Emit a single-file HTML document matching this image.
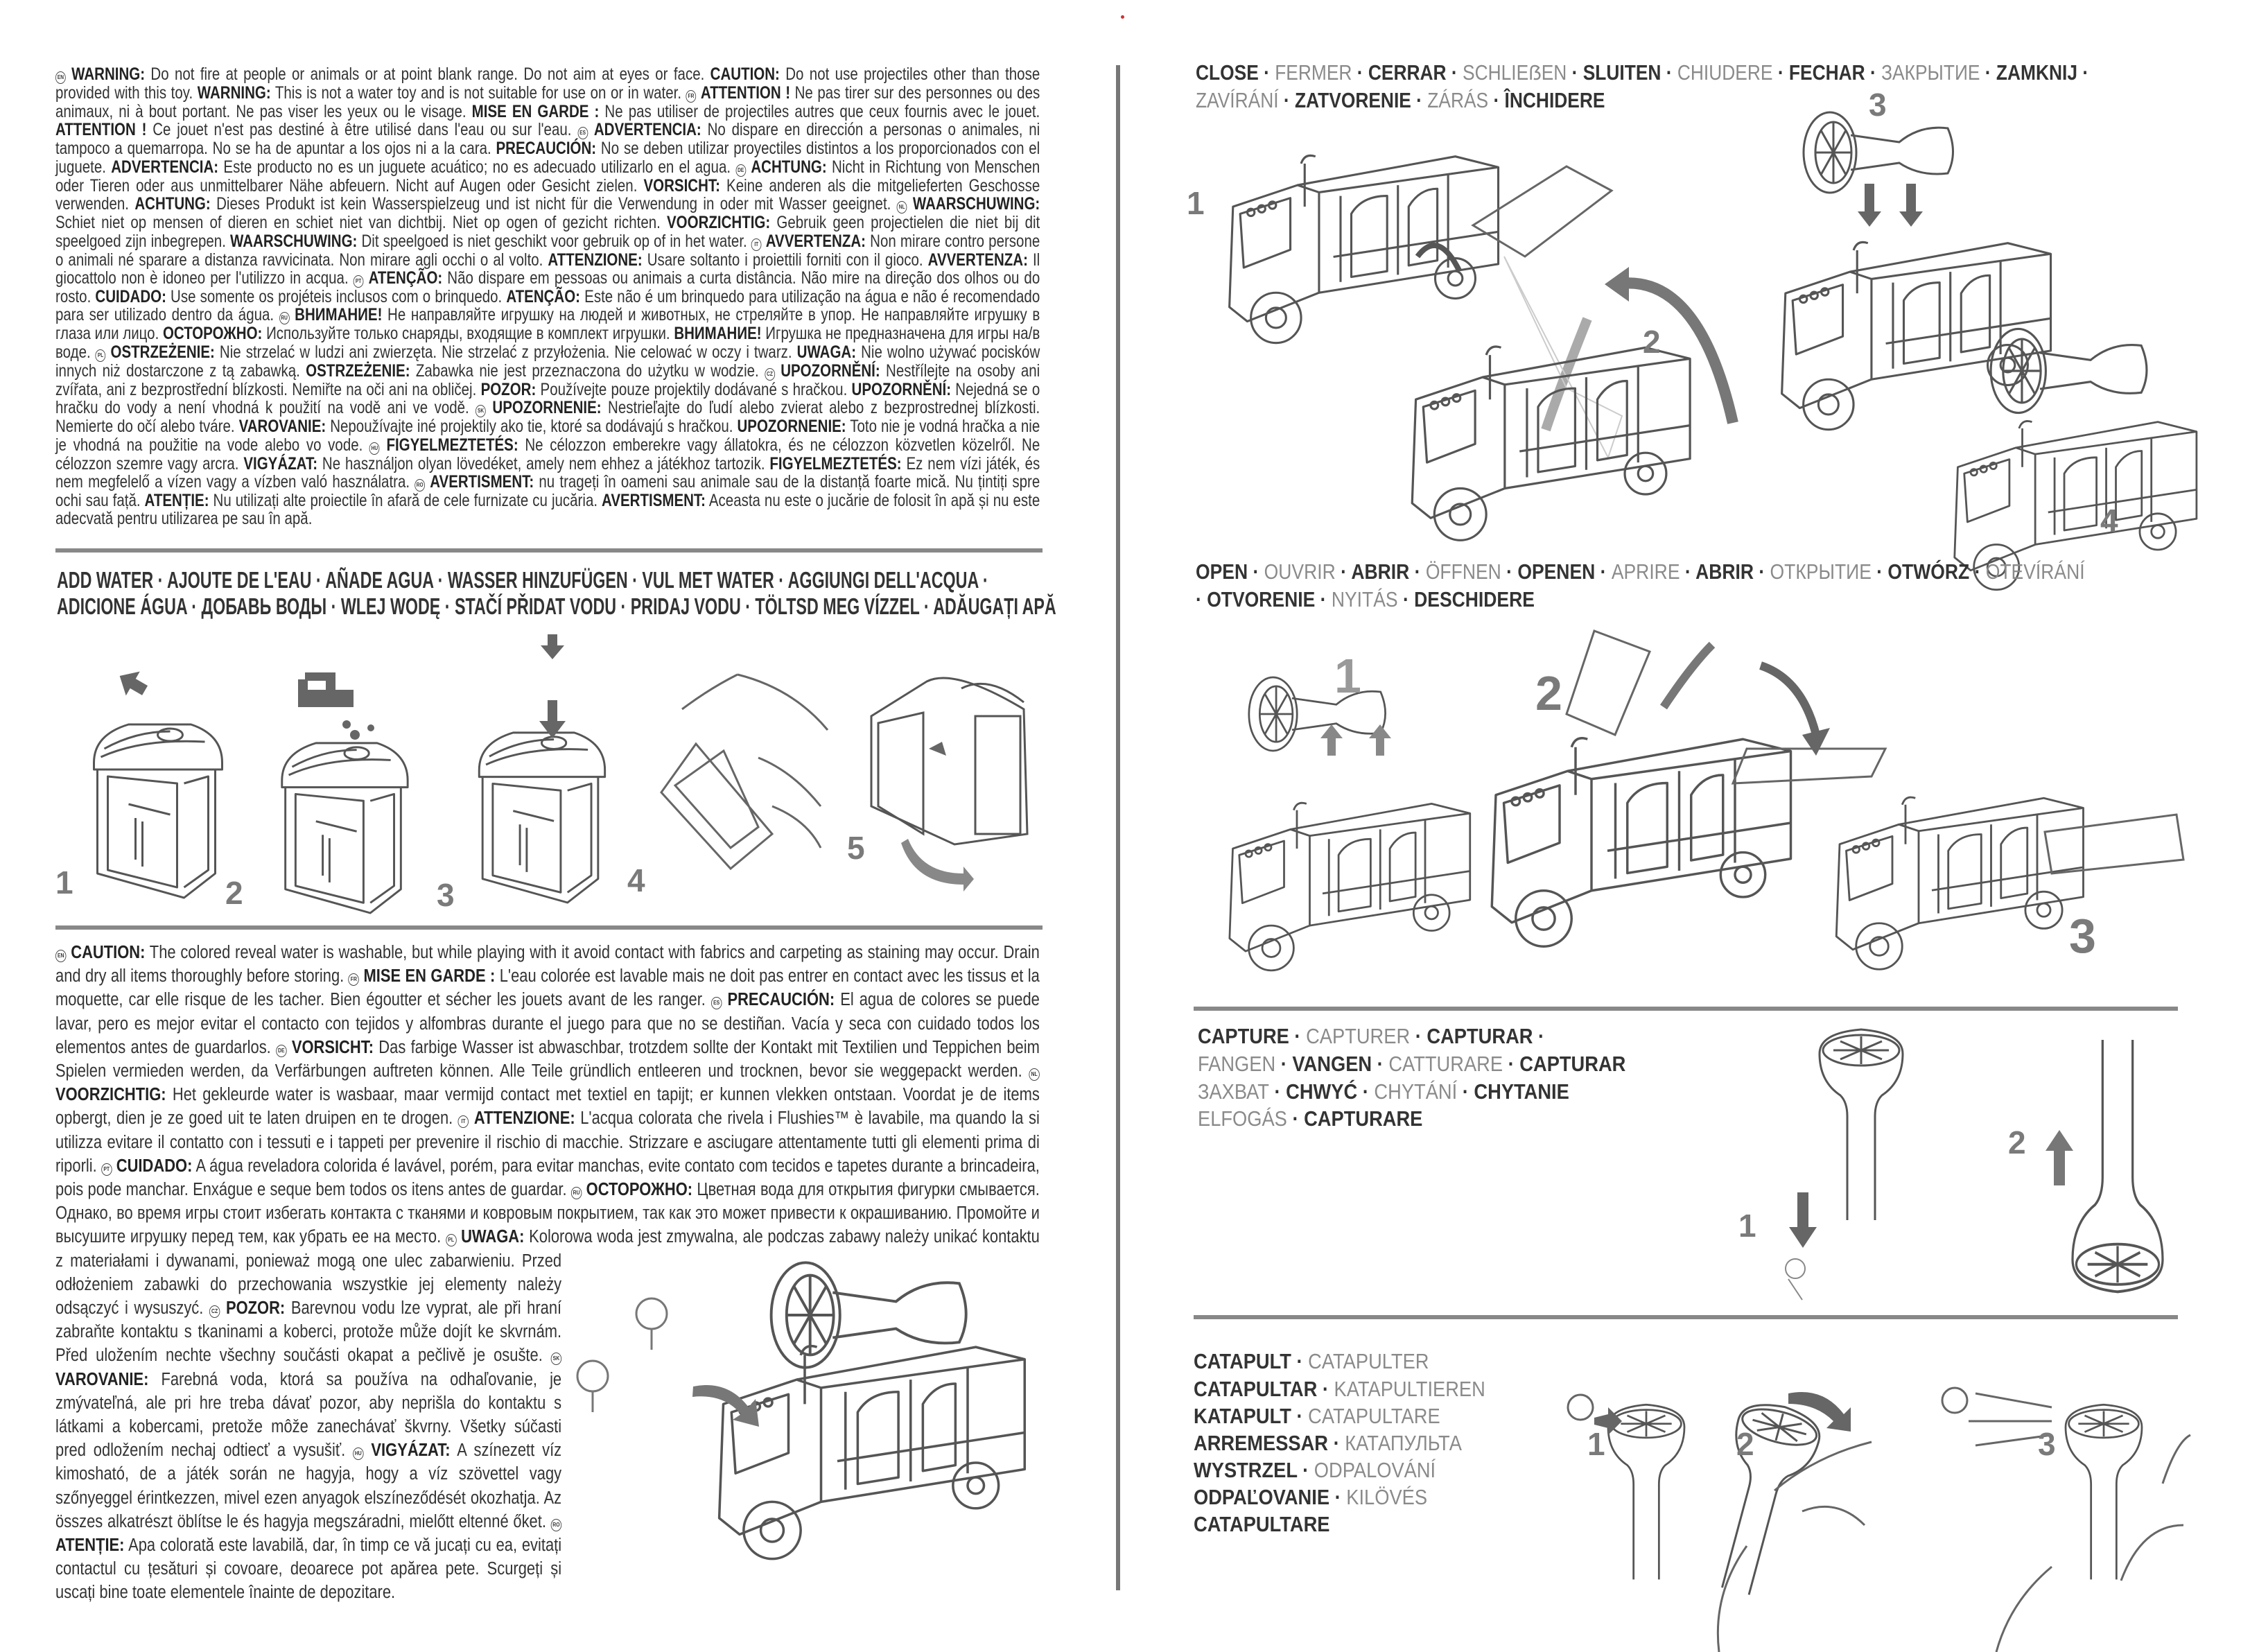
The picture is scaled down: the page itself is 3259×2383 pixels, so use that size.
<!DOCTYPE html>
<html><head><meta charset="utf-8">
<style>
html,body{margin:0;padding:0;background:#fff;}
body{width:3259px;height:2383px;position:relative;overflow:hidden;font-family:"Liberation Sans","DejaVu Sans",sans-serif;color:#2a2a2a;}
.abs{position:absolute;}
.warn{position:absolute;left:80px;top:94px;width:1732px;transform:scaleX(0.82);transform-origin:0 0;font-size:25px;line-height:26.4px;text-align:justify;color:#333;}
.caut{position:absolute;left:80px;top:1357px;width:1651px;transform:scaleX(0.86);transform-origin:0 0;font-size:25.5px;line-height:34.2px;text-align:justify;color:#333;}
b{font-weight:bold;color:#222;}
.lg{display:inline-block;width:16px;height:16px;border:1.5px solid #444;border-radius:50%;font-size:8px;line-height:16px;text-align:center;font-weight:bold;vertical-align:1px;}
.hr{position:absolute;height:6px;background:#888;}
.h{position:absolute;font-weight:bold;font-size:31px;line-height:38px;color:#333;transform-origin:0 0;white-space:nowrap;}
.g{color:#8a8a8a;font-weight:normal;}
.n{position:absolute;font-weight:bold;font-size:46px;color:#7a7a7a;line-height:1;}
svg{position:absolute;overflow:visible;}
</style></head><body>

<div class="warn"><span class="lg">EN</span> <b>WARNING:</b> Do not fire at people or animals or at point blank range. Do not aim at eyes or face. <b>CAUTION:</b> Do not use projectiles other than those provided with this toy. <b>WARNING:</b> This is not a water toy and is not suitable for use on or in water. <span class="lg">FR</span> <b>ATTENTION !</b> Ne pas tirer sur des personnes ou des animaux, ni à bout portant. Ne pas viser les yeux ou le visage. <b>MISE EN GARDE :</b> Ne pas utiliser de projectiles autres que ceux fournis avec le jouet. <b>ATTENTION !</b> Ce jouet n'est pas destiné à être utilisé dans l'eau ou sur l'eau. <span class="lg">ES</span> <b>ADVERTENCIA:</b> No dispare en dirección a personas o animales, ni tampoco a quemarropa. No se ha de apuntar a los ojos ni a la cara. <b>PRECAUCIÓN:</b> No se deben utilizar proyectiles distintos a los proporcionados con el juguete. <b>ADVERTENCIA:</b> Este producto no es un juguete acuático; no es adecuado utilizarlo en el agua. <span class="lg">DE</span> <b>ACHTUNG:</b> Nicht in Richtung von Menschen oder Tieren oder aus unmittelbarer Nähe abfeuern. Nicht auf Augen oder Gesicht zielen. <b>VORSICHT:</b> Keine anderen als die mitgelieferten Geschosse verwenden. <b>ACHTUNG:</b> Dieses Produkt ist kein Wasserspielzeug und ist nicht für die Verwendung in oder mit Wasser geeignet. <span class="lg">NL</span> <b>WAARSCHUWING:</b> Schiet niet op mensen of dieren en schiet niet van dichtbij. Niet op ogen of gezicht richten. <b>VOORZICHTIG:</b> Gebruik geen projectielen die niet bij dit speelgoed zijn inbegrepen. <b>WAARSCHUWING:</b> Dit speelgoed is niet geschikt voor gebruik op of in het water. <span class="lg">IT</span> <b>AVVERTENZA:</b> Non mirare contro persone o animali né sparare a distanza ravvicinata. Non mirare agli occhi o al volto. <b>ATTENZIONE:</b> Usare soltanto i proiettili forniti con il gioco. <b>AVVERTENZA:</b> Il giocattolo non è idoneo per l'utilizzo in acqua. <span class="lg">PT</span> <b>ATENÇÃO:</b> Não dispare em pessoas ou animais a curta distância. Não mire na direção dos olhos ou do rosto. <b>CUIDADO:</b> Use somente os projéteis inclusos com o brinquedo. <b>ATENÇÃO:</b> Este não é um brinquedo para utilização na água e não é recomendado para ser utilizado dentro da água. <span class="lg">RU</span> <b>ВНИМАНИЕ!</b> Не направляйте игрушку на людей и животных, не стреляйте в упор. Не направляйте игрушку в глаза или лицо. <b>ОСТОРОЖНО:</b> Используйте только снаряды, входящие в комплект игрушки. <b>ВНИМАНИЕ!</b> Игрушка не предназначена для игры на/в воде. <span class="lg">PL</span> <b>OSTRZEŻENIE:</b> Nie strzelać w ludzi ani zwierzęta. Nie strzelać z przyłożenia. Nie celować w oczy i twarz. <b>UWAGA:</b> Nie wolno używać pocisków innych niż dostarczone z tą zabawką. <b>OSTRZEŻENIE:</b> Zabawka nie jest przeznaczona do użytku w wodzie. <span class="lg">CZ</span> <b>UPOZORNĚNÍ:</b> Nestřílejte na osoby ani zvířata, ani z bezprostřední blízkosti. Nemiřte na oči ani na obličej. <b>POZOR:</b> Používejte pouze projektily dodávané s hračkou. <b>UPOZORNĚNÍ:</b> Nejedná se o hračku do vody a není vhodná k použití na vodě ani ve vodě. <span class="lg">SK</span> <b>UPOZORNENIE:</b> Nestrieľajte do ľudí alebo zvierat alebo z bezprostrednej blízkosti. Nemierte do očí alebo tváre. <b>VAROVANIE:</b> Nepoužívajte iné projektily ako tie, ktoré sa dodávajú s hračkou. <b>UPOZORNENIE:</b> Toto nie je vodná hračka a nie je vhodná na použitie na vode alebo vo vode. <span class="lg">HU</span> <b>FIGYELMEZTETÉS:</b> Ne célozzon emberekre vagy állatokra, és ne célozzon közvetlen közelről. Ne célozzon szemre vagy arcra. <b>VIGYÁZAT:</b> Ne használjon olyan lövedéket, amely nem ehhez a játékhoz tartozik. <b>FIGYELMEZTETÉS:</b> Ez nem vízi játék, és nem megfelelő a vízen vagy a vízben való használatra. <span class="lg">RO</span> <b>AVERTISMENT:</b> nu trageți în oameni sau animale sau de la distanță foarte mică. Nu țintiți spre ochi sau față. <b>ATENȚIE:</b> Nu utilizați alte proiectile în afară de cele furnizate cu jucăria. <b>AVERTISMENT:</b> Aceasta nu este o jucărie de folosit în apă și nu este adecvată pentru utilizarea pe sau în apă.</div>

<div class="hr" style="left:80px;top:791px;width:1424px;"></div>
<div class="h" style="left:82px;top:818px;font-size:33px;transform:scaleX(0.705);">ADD WATER · AJOUTE DE L'EAU · AÑADE AGUA · WASSER HINZUFÜGEN · VUL MET WATER · AGGIUNGI DELL'ACQUA ·</div>
<div class="h" style="left:82px;top:856px;font-size:33px;transform:scaleX(0.705);">ADICIONE ÁGUA · ДОБАВЬ ВОДЫ · WLEJ WODĘ · STAČÍ PŘIDAT VODU · PRIDAJ VODU · TÖLTSD MEG VÍZZEL · ADĂUGAȚI APĂ</div>

<svg width="0" height="0" style="position:absolute">
<defs>
<g id="toilet" fill="none" stroke="#555" stroke-width="3" stroke-linejoin="round">
<path d="M10 60 Q10 20 60 5 L150 5 Q195 20 195 60 L195 70 L10 70 Z"/>
<path d="M25 40 Q70 15 120 15 M20 52 Q80 25 170 30"/>
<ellipse cx="120" cy="20" rx="18" ry="9"/>
<path d="M15 70 L15 220 L140 255 L185 220 L185 70"/>
<path d="M30 80 L30 215 L130 240 L130 90 Z"/>
<path d="M140 90 L175 80 L175 215 L140 240"/>
<path d="M60 120 L120 135 M70 140 L70 200 M80 145 L80 210"/>
</g>
<g id="truck" fill="none" stroke="#555" stroke-width="3" stroke-linejoin="round">
<path d="M20 90 L110 60 L140 70 L140 210 L40 250 L15 230 Z"/>
<path d="M30 100 L100 78 L100 150 L35 175 Z"/>
<path d="M110 60 L330 20 L390 35 L390 170 L140 210"/>
<path d="M140 70 L390 35"/>
<path d="M170 75 L170 195 M250 60 L250 185 M320 45 L320 175"/>
<path d="M185 100 Q200 75 235 75 L235 180 L185 188 Z M265 90 Q280 65 305 65 L305 165 L265 172 Z"/>
<path d="M160 160 L390 125"/>
<circle cx="80" cy="245" r="35"/><circle cx="80" cy="245" r="14"/>
<circle cx="330" cy="190" r="28"/><circle cx="330" cy="190" r="10"/>
<path d="M120 30 L120 90 M115 30 Q120 15 135 20"/>
<circle cx="45" cy="98" r="5"/><circle cx="60" cy="93" r="5"/><circle cx="75" cy="88" r="5"/>
</g>
<g id="fan" fill="none" stroke="#555" stroke-width="3">
<ellipse cx="40" cy="60" rx="38" ry="58"/>
<ellipse cx="45" cy="60" rx="26" ry="44"/>
<path d="M45 16 L45 104 M19 60 L71 60 M27 28 L63 92 M27 92 L63 28"/>
<path d="M70 35 L140 45 Q170 20 210 25 Q225 60 210 90 Q170 95 140 75 L70 85"/>
</g>
<g id="plunger" fill="none" stroke="#555" stroke-width="3">
<path d="M40 0 L40 150 Q40 170 30 180 Q0 200 0 240 Q0 270 60 275 Q120 270 120 240 Q120 200 90 180 Q80 170 80 150 L80 0"/>
<ellipse cx="60" cy="245" rx="55" ry="22"/>
<path d="M60 225 L60 265 M20 245 L100 245 M30 232 L90 258 M30 258 L90 232"/>
</g>
</defs>
</svg>

<svg style="left:123px;top:1040px" width="205" height="255" viewBox="0 0 200 255"><use href="#toilet"/></svg>
<svg style="left:395px;top:1067px" width="200" height="250" viewBox="0 0 200 255"><use href="#toilet"/></svg>
<svg style="left:677px;top:1052px" width="205" height="250" viewBox="0 0 200 255"><use href="#toilet"/></svg>
<svg style="left:1256px;top:963px" width="262" height="255" viewBox="0 0 260 255"><g fill="none" stroke="#555" stroke-width="3"><path d="M80 20 Q120 0 220 60 L225 240 L120 255 L0 200 L0 70 Z"/><path d="M10 80 L75 65 L75 240 L10 200 Z"/><rect x="150" y="70" width="65" height="170"/><path d="M130 30 Q170 10 220 50"/></g></svg>
<svg style="left:944px;top:963px" width="266" height="317" viewBox="0 0 266 317"><g fill="none" stroke="#666" stroke-width="3"><path d="M120 10 Q200 30 250 90 M40 60 Q80 30 120 10 M60 110 L10 180 L110 290 L170 240 Z M30 170 L100 120 L150 230 L110 260 Z M150 130 Q200 150 240 200 M170 200 Q220 220 240 260"/></g></svg>

<svg style="left:0;top:0" width="3259" height="2383"><g fill="#666">
<path d="M210 985 l-22 -20 l0 12 l-20 0 l0 16 l20 0 l0 12 z" transform="rotate(-150 190 985)"/>
<rect x="440" y="970" width="40" height="12"/><rect x="470" y="970" width="14" height="35"/><rect x="430" y="980" width="14" height="40"/><rect x="430" y="995" width="80" height="25"/>
<circle cx="500" cy="1045" r="6"/><circle cx="512" cy="1060" r="7"/><circle cx="535" cy="1050" r="5"/>
<path d="M790 915 l14 0 l0 16 l10 0 l-17 20 l-17 -20 l10 0 z"/>
<path d="M790 1010 l14 0 l0 30 l12 0 l-19 25 l-19 -25 l12 0 z"/>
<path d="M1340 1080 l25 10 l-6 -20 z"/>
<path d="M1310 1210 q20 50 80 50 l0 -10 l15 18 l-15 18 l0 -10 q-70 0 -90 -60 z" fill="#888"/>
</g></svg>
<div class="n" style="left:80px;top:1250px;">1</div>
<div class="n" style="left:325px;top:1265px;">2</div>
<div class="n" style="left:630px;top:1268px;">3</div>
<div class="n" style="left:905px;top:1247px;">4</div>
<div class="n" style="left:1222px;top:1200px;">5</div>

<div class="hr" style="left:80px;top:1335px;width:1424px;"></div>

<div class="caut"><div style="float:right;width:0;height:452px;"></div><div style="float:right;clear:right;width:802px;height:520px;"></div><span class="lg">EN</span> <b>CAUTION:</b> The colored reveal water is washable, but while playing with it avoid contact with fabrics and carpeting as staining may occur. Drain and dry all items thoroughly before storing. <span class="lg">FR</span> <b>MISE EN GARDE :</b> L'eau colorée est lavable mais ne doit pas entrer en contact avec les tissus et la moquette, car elle risque de les tacher. Bien égoutter et sécher les jouets avant de les ranger. <span class="lg">ES</span> <b>PRECAUCIÓN:</b> El agua de colores se puede lavar, pero es mejor evitar el contacto con tejidos y alfombras durante el juego para que no se destiñan. Vacía y seca con cuidado todos los elementos antes de guardarlos. <span class="lg">DE</span> <b>VORSICHT:</b> Das farbige Wasser ist abwaschbar, trotzdem sollte der Kontakt mit Textilien und Teppichen beim Spielen vermieden werden, da Verfärbungen auftreten können. Alle Teile gründlich entleeren und trocknen, bevor sie weggepackt werden. <span class="lg">NL</span> <b>VOORZICHTIG:</b> Het gekleurde water is wasbaar, maar vermijd contact met textiel en tapijt; er kunnen vlekken ontstaan. Voordat je de items opbergt, dien je ze goed uit te laten druipen en te drogen. <span class="lg">IT</span> <b>ATTENZIONE:</b> L'acqua colorata che rivela i Flushies™ è lavabile, ma quando la si utilizza evitare il contatto con i tessuti e i tappeti per prevenire il rischio di macchie. Strizzare e asciugare attentamente tutti gli elementi prima di riporli. <span class="lg">PT</span> <b>CUIDADO:</b> A água reveladora colorida é lavável, porém, para evitar manchas, evite contato com tecidos e tapetes durante a brincadeira, pois pode manchar. Enxágue e seque bem todos os itens antes de guardar. <span class="lg">RU</span> <b>ОСТОРОЖНО:</b> Цветная вода для открытия фигурки смывается. Однако, во время игры стоит избегать контакта с тканями и ковровым покрытием, так как это может привести к окрашиванию. Промойте и высушите игрушку перед тем, как убрать ее на место. <span class="lg">PL</span> <b>UWAGA:</b> Kolorowa woda jest zmywalna, ale podczas zabawy należy unikać kontaktu z materiałami i dywanami, ponieważ mogą one ulec zabarwieniu. Przed odłożeniem zabawki do przechowania wszystkie jej elementy należy odsączyć i wysuszyć. <span class="lg">CZ</span> <b>POZOR:</b> Barevnou vodu lze vyprat, ale při hraní zabraňte kontaktu s tkaninami a koberci, protože může dojít ke skvrnám. Před uložením nechte všechny součásti okapat a pečlivě je osušte. <span class="lg">SK</span> <b>VAROVANIE:</b> Farebná voda, ktorá sa používa na odhaľovanie, je zmývateľná, ale pri hre treba dávať pozor, aby neprišla do kontaktu s látkami a kobercami, pretože môže zanechávať škvrny. Všetky súčasti pred odložením nechaj odtiecť a vysušiť. <span class="lg">HU</span> <b>VIGYÁZAT:</b> A színezett víz kimosható, de a játék során ne hagyja, hogy a víz szövettel vagy szőnyeggel érintkezzen, mivel ezen anyagok elszíneződését okozhatja. Az összes alkatrészt öblítse le és hagyja megszáradni, mielőtt eltenné őket. <span class="lg">RO</span> <b>ATENȚIE:</b> Apa colorată este lavabilă, dar, în timp ce vă jucați cu ea, evitați contactul cu țesături și covoare, deoarece pot apărea pete. Scurgeți și uscați bine toate elementele înainte de depozitare.</div>

<svg style="left:1020px;top:1900px" width="470" height="380" viewBox="0 0 400 290"><use href="#truck"/></svg>
<svg style="left:1110px;top:1812px" width="300" height="170" viewBox="0 0 230 120"><use href="#fan"/></svg>
<svg style="left:0;top:0" width="3259" height="2383"><g fill="none" stroke="#777" stroke-width="3"><circle cx="940" cy="1895" r="22"/><circle cx="855" cy="1985" r="22"/><path d="M940 1917 l0 30 M855 2007 l0 30"/></g><path d="M1000 2000 q50 -10 80 30 l10 -12 l5 40 l-38 -10 l12 -8 q-25 -30 -70 -25 z" fill="#777"/></svg>

<div class="abs" style="left:1610px;top:94px;width:6px;height:2200px;background:#777;"></div>

<div class="h" style="left:1725px;top:86px;transform:scaleX(0.85);">CLOSE · <span class="g">FERMER</span> · CERRAR · <span class="g">SCHLIEẞEN</span> · SLUITEN · <span class="g">CHIUDERE</span> · FECHAR · <span class="g">ЗАКРЫТИЕ</span> · ZAMKNIJ ·</div>
<div class="h" style="left:1725px;top:126px;transform:scaleX(0.85);"><span class="g">ZAVÍRÁNÍ</span> · ZATVORENIE · <span class="g">ZÁRÁS</span> · ÎNCHIDERE</div>

<svg style="left:1735px;top:205px" width="460" height="300" viewBox="0 0 400 290"><use href="#truck"/></svg>
<svg style="left:0;top:0" width="3259" height="2383"><g fill="none" stroke="#666" stroke-width="3"><path d="M2125 325 L2260 240 L2325 275 L2200 370 Z"/></g>
<path d="M2045 370 q30 -40 60 20" fill="none" stroke="#555" stroke-width="8"/>
<path d="M2330 410 q120 -20 170 200" fill="none" stroke="#777" stroke-width="16"/><path d="M2315 410 l35 -25 l0 50 z" fill="#777"/>
<path d="M2290 460 q-40 100 -60 160" fill="none" stroke="#aaa" stroke-width="14"/>
<g fill="none" stroke="#ccc" stroke-width="2"><path d="M2170 370 L2260 560 L2340 600 L2320 660 Z"/></g>
<path d="M2690 265 l14 0 l0 40 l10 0 l-17 22 l-17 -22 l10 0 z M2750 265 l14 0 l0 40 l10 0 l-17 22 l-17 -22 l10 0 z" fill="#666"/>
</svg>
<svg style="left:2020px;top:480px" width="430" height="310" viewBox="0 0 400 290"><use href="#truck"/></svg>
<svg style="left:2552px;top:330px" width="420" height="300" viewBox="0 0 400 290"><use href="#truck"/></svg>
<svg style="left:2600px;top:160px" width="230" height="120" viewBox="0 0 230 120"><use href="#fan"/></svg>
<svg style="left:2802px;top:590px" width="380" height="270" viewBox="0 0 400 290"><use href="#truck"/></svg>
<svg style="left:2870px;top:460px" width="240" height="150" viewBox="0 0 230 120"><use href="#fan"/></svg>
<div class="n" style="left:1712px;top:270px;">1</div>
<div class="n" style="left:2370px;top:470px;">2</div>
<div class="n" style="left:2696px;top:128px;">3</div>
<div class="n" style="left:3030px;top:728px;">4</div>

<div class="h" style="left:1725px;top:806px;transform:scaleX(0.855);">OPEN · <span class="g">OUVRIR</span> · ABRIR · <span class="g">ÖFFNEN</span> · OPENEN · <span class="g">APRIRE</span> · ABRIR · <span class="g">ОТКРЫТИЕ</span> · OTWÓRZ · <span class="g">OTEVÍRÁNÍ</span></div>
<div class="h" style="left:1725px;top:846px;transform:scaleX(0.855);">· OTVORENIE · <span class="g">NYITÁS</span> · DESCHIDERE</div>

<svg style="left:1760px;top:1110px" width="370" height="330" viewBox="0 0 400 290"><use href="#truck"/></svg>
<svg style="left:1800px;top:970px" width="210" height="120" viewBox="0 0 230 120"><use href="#fan"/></svg>
<svg style="left:2135px;top:1040px" width="460" height="340" viewBox="0 0 400 290"><use href="#truck"/></svg>
<svg style="left:2635px;top:1130px" width="380" height="280" viewBox="0 0 400 290"><use href="#truck"/></svg>
<svg style="left:0;top:0" width="3259" height="2383"><g fill="none" stroke="#666" stroke-width="3">
<path d="M2520 1080 L2720 1080 L2700 1120 L2500 1130 Z"/><path d="M2950 1200 L3140 1175 L3150 1240 L2960 1260 Z"/>
<path d="M2300 910 L2380 940 L2330 1060 L2260 1030 Z"/></g>
<path d="M2400 1020 q40 -60 70 -90" fill="none" stroke="#777" stroke-width="12"/>
<path d="M2540 960 q60 20 80 100" fill="none" stroke="#666" stroke-width="12"/><path d="M2600 1060 l40 -10 l-20 40 z" fill="#666"/>
<path d="M1915 1090 l12 0 l0 -25 l10 0 l-16 -20 l-16 20 l10 0 z M1985 1090 l12 0 l0 -25 l10 0 l-16 -20 l-16 20 l10 0 z" fill="#888"/>
</svg>
<div class="n" style="left:1925px;top:940px;font-size:70px;color:#999;">1</div>
<div class="n" style="left:2215px;top:965px;font-size:70px;">2</div>
<div class="n" style="left:2985px;top:1315px;font-size:70px;">3</div>

<div class="hr" style="left:1722px;top:1452px;width:1420px;"></div>
<div class="h" style="left:1728px;top:1476px;transform:scaleX(0.88);">CAPTURE · <span class="g">CAPTURER</span> · CAPTURAR ·</div>
<div class="h" style="left:1728px;top:1516px;transform:scaleX(0.88);"><span class="g">FANGEN</span> · VANGEN · <span class="g">CATTURARE</span> · CAPTURAR</div>
<div class="h" style="left:1728px;top:1556px;transform:scaleX(0.88);"><span class="g">ЗАХВАТ</span> · CHWYĆ · <span class="g">CHYTÁNÍ</span> · CHYTANIE</div>
<div class="h" style="left:1728px;top:1595px;transform:scaleX(0.88);"><span class="g">ELFOGÁS</span> · CAPTURARE</div>
<svg style="left:2620px;top:1480px" width="130" height="280" viewBox="0 0 120 280" transform="scale(1,-1)"><use href="#plunger"/></svg>
<svg style="left:2990px;top:1500px" width="130" height="370" viewBox="0 0 120 280" preserveAspectRatio="none"><use href="#plunger"/></svg>
<svg style="left:0;top:0" width="3259" height="2383"><path d="M2593 1720 l16 0 l0 50 l12 0 l-20 30 l-20 -30 l12 0 z" fill="#666"/><path d="M2963 1710 l16 0 l0 -50 l12 0 l-20 -30 l-20 30 l12 0 z" fill="#777"/>
<g fill="none" stroke="#888" stroke-width="2"><circle cx="2590" cy="1830" r="14"/><path d="M2580 1845 l20 30"/></g></svg>
<div class="n" style="left:2508px;top:1745px;">1</div>
<div class="n" style="left:2897px;top:1625px;">2</div>

<div class="hr" style="left:1722px;top:1897px;width:1420px;"></div>
<div class="h" style="left:1722px;top:1945px;transform:scaleX(0.88);">CATAPULT · <span class="g">CATAPULTER</span></div>
<div class="h" style="left:1722px;top:1985px;transform:scaleX(0.88);">CATAPULTAR · <span class="g">KATAPULTIEREN</span></div>
<div class="h" style="left:1722px;top:2024px;transform:scaleX(0.88);">KATAPULT · <span class="g">CATAPULTARE</span></div>
<div class="h" style="left:1722px;top:2063px;transform:scaleX(0.88);">ARREMESSAR · <span class="g">КАТАПУЛЬТА</span></div>
<div class="h" style="left:1722px;top:2102px;transform:scaleX(0.88);">WYSTRZEL · <span class="g">ODPALOVÁNÍ</span></div>
<div class="h" style="left:1722px;top:2141px;transform:scaleX(0.88);">ODPAĽOVANIE · <span class="g">KILÖVÉS</span></div>
<div class="h" style="left:1722px;top:2180px;transform:scaleX(0.88);">CATAPULTARE</div>
<svg style="left:2320px;top:2000px" width="110" height="300" viewBox="0 0 120 280" transform="scale(1,-1)"><use href="#plunger"/></svg>
<svg style="left:2480px;top:2010px" width="120" height="300" viewBox="0 0 120 280" transform="scale(1,-1) rotate(-15)"><use href="#plunger"/></svg>
<svg style="left:2980px;top:2000px" width="110" height="300" viewBox="0 0 120 280" transform="scale(1,-1)"><use href="#plunger"/></svg>
<svg style="left:0;top:0" width="3259" height="2383"><g fill="none" stroke="#666" stroke-width="3">
<path d="M2480 2383 Q2470 2300 2520 2230 M2560 2150 Q2620 2100 2700 2080 M2600 2180 Q2650 2160 2690 2200 M2880 2383 Q2900 2310 2960 2260 M3060 2280 Q3090 2200 3150 2200 M3120 2140 Q3140 2080 3160 2070"/>
<path d="M2850 2010 L2960 2030 M2840 2050 L2960 2050 M2850 2085 L2960 2070"/>
<circle cx="2280" cy="2030" r="18"/><circle cx="2820" cy="2020" r="18"/></g>
<path d="M2300 2045 l20 -5 l0 -10 l20 20 l-20 20 l0 -10 l-20 -5 z" fill="#666"/>
<path d="M2580 2010 q50 -10 80 30 l10 -10 l0 35 l-35 -5 l10 -10 q-25 -25 -65 -25 z" fill="#666"/></svg>
<div class="n" style="left:2290px;top:2060px;">1</div>
<div class="n" style="left:2505px;top:2060px;">2</div>
<div class="n" style="left:2940px;top:2060px;">3</div>

<div class="abs" style="left:1617px;top:22px;width:5px;height:5px;background:#c33;border-radius:50%;"></div>
</body></html>
